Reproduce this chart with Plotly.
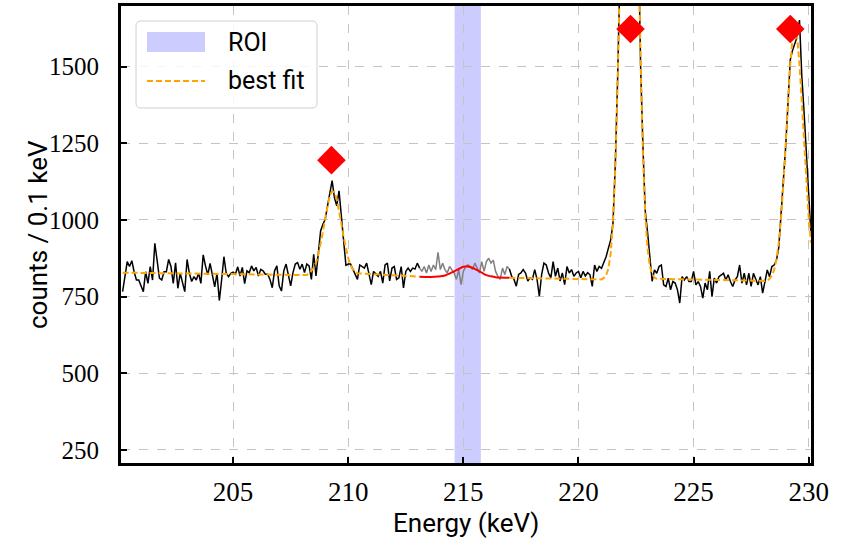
import numpy as np
import plotly.graph_objects as go

# ---------------- data ----------------
energy_start = 200.2          # keV, first bin
bin_width = 0.1               # keV per bin

counts = [
    # 200.2 - 204.9
    766, 815, 864, 848, 867, 831, 804, 804, 782, 766,
    831, 793, 848, 804, 924, 858, 810, 804, 831, 831,
    871, 848, 793, 860, 777, 826, 793, 766, 871, 826,
    799, 815, 804, 826, 793, 886, 850, 821, 858, 815,
    782, 826, 737, 804, 880, 826, 815, 826,
    # 205.0 - 210.2
    830,
    823, 847, 817, 845, 792, 834, 828, 850, 834, 845,
    817, 839, 834, 823, 823, 806, 779, 834, 850, 785,
    768, 834, 856, 823, 785, 828, 856, 861, 839, 856,
    828, 856, 850, 806, 888, 817, 888, 964, 986, 1002,
    1046, 1084, 1128, 1073, 1046, 1095, 1002, 932, 852, 856,
    856, 839,
    # 210.3 - 215.3
    827,
    806, 853, 848, 843, 859, 827, 789, 832, 822, 816,
    832, 794, 853, 859, 801, 843, 848, 806, 811, 848,
    778, 832, 843, 832, 843, 840, 859, 843, 832, 848,
    827, 853, 832, 853, 838, 894, 838, 859, 838, 827,
    848, 838, 827, 806, 838, 789, 832, 848, 853, 848,
    # 215.4 - 220.2
    838, 859, 840, 827, 864, 832, 864, 875, 859, 869,
    832, 816, 806, 843, 822, 848, 840, 816, 806, 784,
    822, 827, 838, 827, 801, 811, 806, 838, 806, 751,
    822, 859, 853, 827, 811, 864, 816, 843, 801, 827,
    789, 848, 827, 838, 816, 827, 832, 811, 832,
    # 220.3 - 225.2
    817, 828, 821, 783, 853, 832, 848, 842, 859, 880,
    908, 935, 990, 1180, 1460, 1830, 2280, 2700, 3000, 3150,
    3080, 2800, 2350, 1900, 1500, 1240, 1030, 960, 880, 800,
    837, 826, 848, 853, 788, 783, 810, 772, 799, 794,
    772, 729, 815, 804, 815, 799, 799, 832, 788, 799,
    # 225.3 - 230.1
    783, 745, 794, 772, 832, 750, 810, 794, 815, 821,
    826, 804, 821, 799, 783, 804, 815, 853, 794, 826,
    788, 826, 783, 826, 804, 788, 815, 761, 799, 837,
    815, 848, 853, 869, 910, 1011, 1109, 1239, 1380, 1522,
    1554, 1576, 1598, 1652, 1470, 1350, 1200, 1070, 950,
]

roi_window = [213.1, 217.0]   # data drawn grey inside this window
roi_band = [214.62, 215.76]   # shaded ROI

fit_x = [200.2, 208.2,
         208.3, 208.4, 208.5, 208.6, 208.7, 208.8, 208.9, 209.0, 209.1, 209.2,
         209.3, 209.4, 209.5, 209.6, 209.7, 209.8, 209.9, 210.0, 210.1, 210.2,
         210.3, 210.4, 213.1,
         None,
         217.0, 221.0,
         221.1, 221.2, 221.3, 221.4, 221.5, 221.6, 221.7, 221.8, 221.9, 222.0,
         222.1, 222.2, 222.3, 222.4, 222.5, 222.6, 222.7, 222.8, 222.9, 223.0,
         223.1, 223.2, 223.3, 223.4, 228.2,
         228.3, 228.4, 228.5, 228.6, 228.7, 228.8, 228.9, 229.0, 229.1, 229.2,
         229.3, 229.4, 229.5, 229.6, 229.7, 229.8, 229.9, 230.0, 230.1]
fit_y = [828, 820,
         828, 834, 844, 861, 886, 920, 961, 1006, 1047, 1079,
         1094, 1090, 1068, 1031, 988, 944, 905, 875, 853, 839,
         831, 826, 815,
         None,
         811, 806,
         811, 819, 842, 892, 992, 1169, 1448, 1831, 2282, 2729,
         3068, 3211, 3114, 2808, 2375, 1917, 1517, 1217, 1021, 907,
         849, 823, 812, 808, 801,
         808, 818, 837, 871, 925, 1007, 1116, 1247, 1384, 1508,
         1595, 1626, 1595, 1508, 1384, 1247, 1116, 1007, 925]

roi_fit_x = [213.1, 213.5, 213.8, 214.0, 214.2, 214.4, 214.6, 214.8, 215.0,
             215.2, 215.4, 215.6, 215.8, 216.0, 216.2, 216.4, 216.6, 217.0]
roi_fit_y = [815, 814, 815, 816, 819, 825, 832, 840, 847,
             848, 844, 836, 828, 820, 816, 813, 812, 811]

peak_x = [209.27, 222.26, 229.20]
peak_y = [1195, 1623, 1623]

x_ticks = [205, 210, 215, 220, 225, 230]
y_ticks = [250, 500, 750, 1000, 1250, 1500]

legend_labels = ["ROI", "best fit"]
x_title = "Energy (keV)"
y_title = "counts / 0.1 keV"

# ---------------- figure ----------------
W, H = 844, 539
ML, MR, MT, MB = 121, 33, 6, 76
PW, PH = W - ML - MR, H - MT - MB

def px(xp):   # pixel x -> paper x
    return (xp - ML) / PW

def py(yp):   # pixel y -> paper y
    return 1 - (yp - MT) / PH

energy = np.round(energy_start + bin_width * np.arange(len(counts)), 1)
counts_arr = np.array(counts, dtype=float)
inside = (energy >= roi_window[0] - 1e-9) & (energy <= roi_window[1] + 1e-9)
outside = (energy <= roi_window[0] + 1e-9) | (energy >= roi_window[1] - 1e-9)
black_y = [v if o else None for v, o in zip(counts_arr, outside)]
grey_y = [v if i else None for v, i in zip(counts_arr, inside)]

sans = "Roboto"
serif = "Liberation Serif"
roi_color = "rgba(0,0,255,0.2)"

fig = go.Figure()
fig.add_vrect(x0=roi_band[0], x1=roi_band[1], fillcolor=roi_color, line_width=0,
              layer="below")
fig.add_trace(go.Scatter(x=energy, y=black_y, mode="lines",
                         line=dict(color="black", width=1.5), connectgaps=False))
fig.add_trace(go.Scatter(x=energy, y=grey_y, mode="lines",
                         line=dict(color="grey", width=1.5), connectgaps=False))
fig.add_trace(go.Scatter(x=fit_x, y=fit_y, mode="lines", name=legend_labels[1],
                         line=dict(color="orange", width=2, dash="6px,3px"),
                         connectgaps=False))
fig.add_trace(go.Scatter(x=roi_fit_x, y=roi_fit_y, mode="lines",
                         line=dict(color="red", width=2, shape="spline")))
fig.add_trace(go.Scatter(x=peak_x, y=peak_y, mode="markers",
                         marker=dict(symbol="diamond", size=22, color="red",
                                     line=dict(width=0))))

axis_common = dict(
    showline=True, linecolor="black", linewidth=3, mirror=True,
    ticks="inside", ticklen=6, tickwidth=2, tickcolor="black",
    showgrid=True, gridcolor="#c4c4c4", griddash="dash", gridwidth=1,
    zeroline=False,
)

# ---- axis titles ----
fig.add_annotation(text=x_title, xref="paper", yref="paper", x=px(466), y=py(523),
                   xanchor="center", yanchor="middle", showarrow=False,
                   font=dict(family=sans, size=26, color="black"))
fig.add_annotation(text=y_title, xref="paper", yref="paper", x=px(38), y=py(235),
                   xanchor="center", yanchor="middle", showarrow=False, textangle=-90,
                   font=dict(family=sans, size=26, color="black"))

# ---- hand-drawn legend (matplotlib style) ----
bx0, bx1, by0, by1, r = 136, 317, 21, 108, 5
rx0, rx1, ry0, ry1 = px(bx0), px(bx1), py(by0), py(by1)
dx, dy = r / PW, r / PH
path = (f"M {rx0+dx},{ry0} L {rx1-dx},{ry0} Q {rx1},{ry0} {rx1},{ry0-dy} "
        f"L {rx1},{ry1+dy} Q {rx1},{ry1} {rx1-dx},{ry1} "
        f"L {rx0+dx},{ry1} Q {rx0},{ry1} {rx0},{ry1+dy} "
        f"L {rx0},{ry0-dy} Q {rx0},{ry0} {rx0+dx},{ry0} Z")
fig.add_shape(type="path", path=path, xref="paper", yref="paper",
              fillcolor="rgba(255,255,255,0.85)", line=dict(color="#d0d0d0", width=1))
fig.add_shape(type="rect", xref="paper", yref="paper",
              x0=px(147), x1=px(205), y0=py(32), y1=py(52),
              fillcolor=roi_color, line=dict(width=0))
fig.add_shape(type="line", xref="paper", yref="paper",
              x0=px(147), x1=px(205), y0=py(81), y1=py(81),
              line=dict(color="orange", width=2, dash="6px,3px"))
for lab, yc in zip(legend_labels, [42, 81]):
    fig.add_annotation(text=lab, xref="paper", yref="paper", x=px(226), y=py(yc),
                       xanchor="left", yanchor="middle", showarrow=False,
                       font=dict(family=sans, size=25, color="black"))

fig.update_layout(
    width=W, height=H,
    margin=dict(l=ML, r=MR, t=MT, b=MB, autoexpand=False),
    paper_bgcolor="white", plot_bgcolor="white",
    showlegend=False,
    font=dict(family=serif, size=25, color="black"),
    xaxis=dict(range=[200.13, 230.1], tickmode="array", tickvals=x_ticks,
               tickfont=dict(family=serif, size=27, color="black"),
               ticklabelstandoff=3, automargin=False, **axis_common),
    yaxis=dict(range=[207, 1698], tickmode="array", tickvals=y_ticks,
               tickfont=dict(family=serif, size=25, color="black"),
               ticklabelstandoff=14, automargin=False, **axis_common),
)

fig.write_html("out.html")
